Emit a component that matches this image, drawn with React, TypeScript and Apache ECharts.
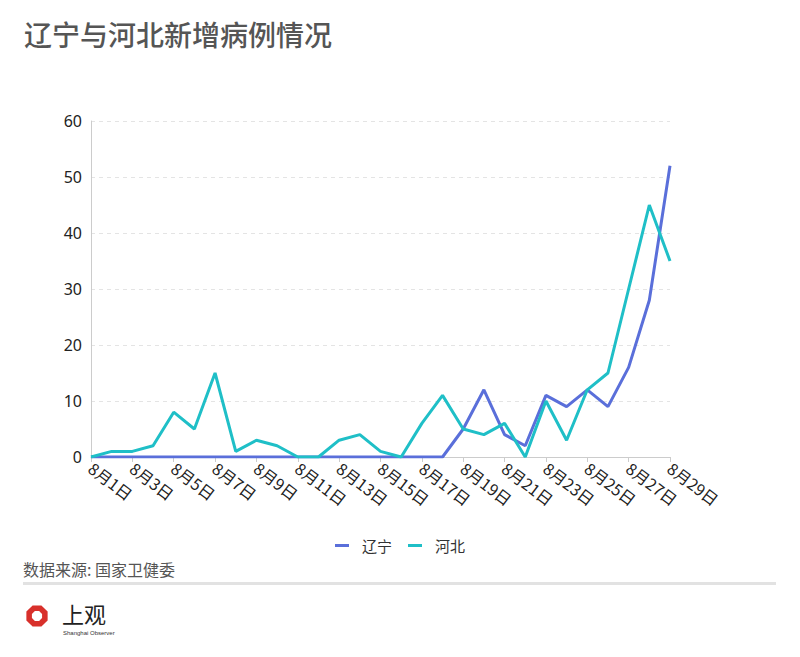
import React, { useEffect, useRef } from "react";
import * as echarts from "echarts";

const titleText = "辽宁与河北新增病例情况";
const sourceText = "数据来源: 国家卫健委";
const seriesNames = ["辽宁", "河北"];
const dates = [
  "8月1日", "8月2日", "8月3日", "8月4日", "8月5日", "8月6日", "8月7日", "8月8日",
  "8月9日", "8月10日", "8月11日", "8月12日", "8月13日", "8月14日", "8月15日", "8月16日",
  "8月17日", "8月18日", "8月19日", "8月20日", "8月21日", "8月22日", "8月23日", "8月24日",
  "8月25日", "8月26日", "8月27日", "8月28日", "8月29日",
];
const liaoning = [0, 0, 0, 0, 0, 0, 0, 0, 0, 0, 0, 0, 0, 0, 0, 0, 0, 0, 5, 12, 4, 2, 11, 9, 12, 9, 16, 28, 52];
const hebei = [0, 1, 1, 2, 8, 5, 15, 1, 3, 2, 0, 0, 3, 4, 1, 0, 6, 11, 5, 4, 6, 0, 10, 3, 12, 15, 30, 45, 35];
const yMin = 0;
const yMax = 60;
const yStep = 10;

const colors = ["#5a6fda", "#1fbfc7"];
const FONT = "'Noto Sans CJK SC', 'Noto Sans', sans-serif";

function octagon(cx: number, cy: number, r: number): number[][] {
  const pts: number[][] = [];
  for (let i = 0; i < 8; i++) {
    const a = (Math.PI / 8) + (i * Math.PI) / 4;
    pts.push([cx + r * Math.cos(a), cy + r * Math.sin(a)]);
  }
  return pts;
}

export default function App() {
  const ref = useRef<HTMLDivElement>(null);
  useEffect(() => {
    if (!ref.current) return;
    const chart = echarts.init(ref.current, undefined, { renderer: "svg" });
    chart.setOption({
      animation: false,
      backgroundColor: "#ffffff",
      color: colors,
      textStyle: { fontFamily: FONT },
      grid: { left: 91, right: 130, top: 121, bottom: 200, containLabel: false },
      legend: {
        data: seriesNames,
        top: 533,
        left: "center",
        icon: "rect",
        itemWidth: 14,
        itemHeight: 3,
        itemGap: 16,
        textStyle: { fontSize: 15, color: "#333", fontFamily: FONT, padding: [0, 0, 0, 8] },
      },
      xAxis: {
        type: "category",
        data: dates,
        boundaryGap: false,
        axisLine: { lineStyle: { color: "#cccccc", width: 1 } },
        axisTick: { show: true, interval: 1, length: 5, lineStyle: { color: "#cccccc" } },
        axisLabel: {
          interval: 1,
          rotate: -37,
          margin: 9,
          fontSize: 16,
          color: "#222",
          fontFamily: FONT,
        },
        splitLine: { show: false },
      },
      yAxis: {
        type: "value",
        min: yMin,
        max: yMax,
        interval: yStep,
        axisLine: { show: true, lineStyle: { color: "#cccccc", width: 1 } },
        axisTick: { show: false },
        axisLabel: { fontSize: 16, color: "#222", margin: 9, fontFamily: "'Noto Sans', sans-serif" },
        splitLine: { show: true, lineStyle: { color: "#e4e4e4", type: [4, 4], width: 1 } },
      },
      series: [
        {
          name: seriesNames[0],
          type: "line",
          data: liaoning,
          showSymbol: false,
          lineStyle: { width: 3, color: colors[0] },
          itemStyle: { color: colors[0] },
        },
        {
          name: seriesNames[1],
          type: "line",
          data: hebei,
          showSymbol: false,
          lineStyle: { width: 3, color: colors[1] },
          itemStyle: { color: colors[1] },
        },
      ],
      graphic: [
        {
          type: "text",
          left: 24,
          top: 20,
          style: { text: titleText, fontSize: 28, fill: "#555", fontFamily: FONT, fontWeight: 500 },
        },
        {
          type: "text",
          left: 23,
          top: 561,
          style: { text: sourceText, fontSize: 16, fill: "#555", fontFamily: FONT },
        },
        {
          type: "rect",
          shape: { x: 23, y: 582, width: 753, height: 3 },
          style: { fill: "#e2e2e2" },
        },
        {
          type: "polygon",
          shape: { points: octagon(37, 616, 11.5) },
          style: { fill: "#d8302b" },
        },
        {
          type: "polygon",
          shape: { points: octagon(37, 616, 5.5) },
          style: { fill: "#ffffff" },
        },
        {
          type: "text",
          left: 62,
          top: 602,
          style: { text: "上观", fontSize: 22, fill: "#222", fontFamily: FONT, fontWeight: "normal" },
        },
        {
          type: "text",
          left: 63,
          top: 630,
          style: { text: "Shanghai Observer", fontSize: 6, fill: "#333", fontFamily: "'Liberation Sans', sans-serif" },
        },
      ],
    });
    return () => chart.dispose();
  }, []);
  return <div ref={ref} style={{ width: 800, height: 657, position: "absolute", left: 0, top: 0 }} />;
}
